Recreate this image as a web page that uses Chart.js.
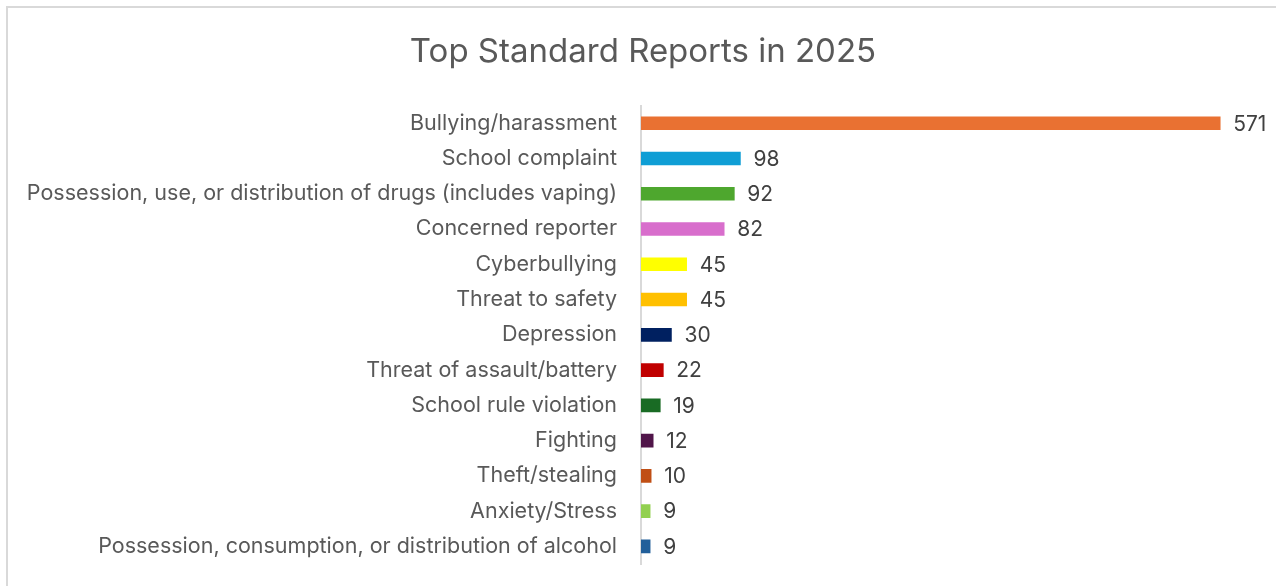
<!DOCTYPE html>
<html>
<head>
<meta charset="utf-8">
<script src="https://cdn.jsdelivr.net/npm/chart.js@4"></script>
<style>
  html, body { margin: 0; padding: 0; background: #fff; overflow: hidden; }
  #frame { position: absolute; left: 6px; top: 6px; width: 1300px; height: 600px; border: 2px solid #d9d9d9; }
  #wrap { position: absolute; left: 0; top: 0; width: 1276px; height: 586px; }
</style>
</head>
<body>
<div id="frame"></div>
<div id="wrap"><canvas id="bar-chart"></canvas></div>
<script>
const categories = [
  "Bullying/harassment",
  "School complaint",
  "Possession, use, or distribution of drugs (includes vaping)",
  "Concerned reporter",
  "Cyberbullying",
  "Threat to safety",
  "Depression",
  "Threat of assault/battery",
  "School rule violation",
  "Fighting",
  "Theft/stealing",
  "Anxiety/Stress",
  "Possession, consumption, or distribution of alcohol"
];
const reportCounts = [571, 98, 92, 82, 45, 45, 30, 22, 19, 12, 10, 9, 9];
const barColors = [
  "#E97132", "#0F9ED5", "#4EA72E", "#D86ECC", "#FFFF00", "#FFC000", "#002060",
  "#C00000", "#196B24", "#501549", "#C04F15", "#92D050", "#215F9A"
];

const FONT = "Inter, 'Open Sans', sans-serif";

// draws the number to the right of each bar
const valueLabels = {
  id: "valueLabels",
  afterDatasetsDraw(chart) {
    const ctx = chart.ctx;
    const meta = chart.getDatasetMeta(0);
    ctx.save();
    ctx.font = "21px " + FONT;
    ctx.fillStyle = "#404040";
    ctx.textAlign = "left";
    ctx.textBaseline = "middle";
    meta.data.forEach((bar, i) => {
      ctx.fillText(String(reportCounts[i]), bar.x + 13, bar.y + 1);
    });
    ctx.restore();
  }
};

const ctx = document.getElementById("bar-chart");
new Chart(ctx, {
  type: "bar",
  data: {
    labels: categories,
    datasets: [{
      data: reportCounts,
      backgroundColor: barColors,
      barThickness: 13,
      borderWidth: 0
    }]
  },
  options: {
    indexAxis: "y",
    responsive: true,
    maintainAspectRatio: false,
    animation: false,
    layout: { padding: { top: 0, right: 0, bottom: 22, left: 10 } },
    scales: {
      x: { display: false, min: 0, max: 626 },
      y: {
        // invisible tick marks give the gap between labels and axis line
        grid: { display: true, drawOnChartArea: false, drawTicks: true, tickLength: 24, tickColor: "rgba(0,0,0,0)" },
        border: { display: true, color: "#d9d9d9", width: 2 },
        ticks: { color: "#595959", font: { family: FONT, size: 21.5 }, padding: 0 },
        afterFit(scale) { scale.width = 631; }
      }
    },
    plugins: {
      legend: { display: false },
      tooltip: { enabled: false },
      title: {
        display: true,
        text: "Top Standard Reports in 2025",
        color: "#595959",
        font: { family: FONT, size: 33, weight: "normal" },
        padding: { top: 32, bottom: 34 }
      }
    }
  },
  plugins: [valueLabels]
});
</script>
</body>
</html>
